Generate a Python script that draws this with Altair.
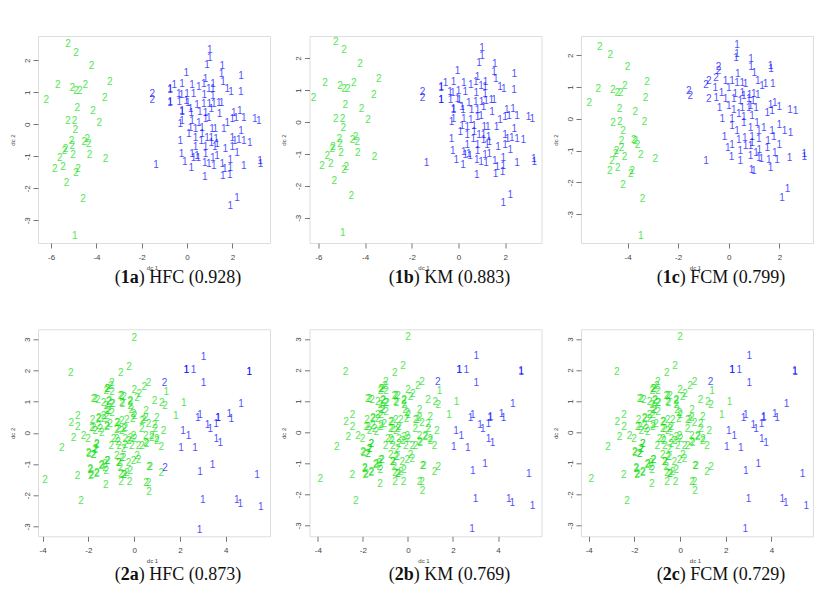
import altair as alt
import pandas as pd

# ---------------- Data set 1 : panels (1a) and (1b) ----------------
d1_green = [(-5.26, 2.5), (-4.9, 2.24), (-4.22, 1.82), (-3.41, 1.33), (-5.71, 1.22), (-5.07, 1.13),
            (-4.9, 1.04), (-4.74, 1.04), (-4.49, 1.23), (-6.21, 0.76), (-3.63, 0.83), (-4.85, 0.52),
            (-4.15, 0.42), (-5.25, 0.1), (-4.97, 0.1), (-3.87, 0.05), (-4.93, -0.18), (-5.1, -0.52),
            (-4.41, -0.47), (-4.54, -0.55), (-4.34, -0.62), (-5.07, -0.68), (-5.37, -0.78), (-5.41, -0.85),
            (-5.62, -1.06), (-5.03, -0.97), (-4.31, -0.96), (-3.6, -1.09), (-5.84, -1.39), (-5.47, -1.32),
            (-4.81, -1.41), (-4.9, -1.51), (-5.32, -1.84), (-4.59, -2.32)]
d1_blue = [(1.0, 2.31), (1.0, 2.06), (0.88, 1.85), (1.55, 1.82), (-0.04, 1.61), (0.81, 1.41), (1.52, 1.56),
           (1.59, 1.33), (2.38, 1.51), (2.37, 1.01), (-0.75, 1.07), (-0.56, 1.22), (-0.22, 1.25), (0.22, 1.22),
           (0.52, 1.17), (0.74, 1.25), (0.96, 1.11), (1.13, 1.09), (1.15, 1.25), (1.77, 1.09), (1.94, 1.02),
           (-0.37, 0.94), (-0.25, 0.91), (0.0, 0.96), (0.29, 0.94), (0.76, 0.91), (1.13, 0.88), (-0.75, 0.68),
           (-0.34, 0.7), (-0.04, 0.73), (0.03, 0.68), (0.44, 0.59), (0.74, 0.63), (0.98, 0.63), (1.18, 0.64),
           (1.4, 0.68), (1.52, 0.68), (0.15, 0.47), (-0.22, 0.38), (0.19, 0.36), (0.56, 0.38), (0.81, 0.36),
           (1.07, 0.47), (1.43, 0.31), (2.06, 0.36), (2.33, 0.42), (2.5, 0.19), (2.99, 0.16), (3.16, 0.1),
           (-0.22, 0.1), (0.22, 0.1), (0.52, 0.05), (0.81, 0.16), (0.96, 0.19), (1.1, -0.16), (1.25, -0.16),
           (1.62, -0.16), (1.77, 0.05), (1.99, 0.16), (2.16, 0.19), (-0.3, 0.0), (0.15, -0.13), (0.37, -0.16),
           (0.66, -0.13), (0.07, -0.31), (0.37, -0.42), (0.66, -0.31), (0.88, -0.42), (1.07, -0.42),
           (1.28, -0.47), (1.99, -0.42), (2.38, -0.21), (-0.3, -0.52), (0.63, -0.52), (1.07, -0.57),
           (1.32, -0.63), (2.1, -0.52), (2.28, -0.5), (2.5, -0.52), (2.77, -0.57), (0.37, -0.71), (0.81, -0.71),
           (1.22, -0.71), (1.69, -0.78), (1.99, -0.71), (2.21, -0.89), (-0.25, -0.92), (0.22, -0.94),
           (0.44, -0.99), (0.81, -0.92), (1.13, -1.04), (1.32, -0.99), (0.29, -1.04), (0.49, -1.06),
           (-0.1, -1.18), (0.78, -1.2), (0.96, -1.25), (1.18, -1.3), (1.55, -1.23), (1.91, -1.13),
           (1.66, -1.41), (1.91, -1.38), (2.5, -1.3), (3.24, -1.25), (3.22, -1.15), (0.19, -1.36),
           (0.78, -1.65), (1.58, -1.62), (1.88, -1.58), (2.21, -2.29), (1.91, -2.55), (-1.37, -1.28),
           (-0.74, 1.09), (-0.74, 0.7), (-0.22, 0.42)]
# unusual points: (x, y, true label, cluster)
d1_odd = [(-4.96, -3.49, "1", "2"), (-1.54, 0.94, "2", "1"), (-1.54, 0.76, "2", "1")]

# ---------------- Data set 1 : panel (1c) ----------------
d1c_green = [(-5.1, 2.26), (-4.68, 2.01), (-4.0, 1.63), (-3.23, 1.17), (-5.16, 0.95), (-4.58, 0.9),
             (-4.41, 0.82), (-4.28, 0.82), (-4.11, 1.03), (-5.51, 0.5), (-3.29, 0.66), (-4.32, 0.32),
             (-3.69, 0.22), (-4.57, -0.13), (-4.31, -0.11), (-3.33, -0.11), (-4.18, -0.37), (-4.24, -0.7),
             (-3.75, -0.68), (-3.69, -0.7), (-3.61, -0.81), (-4.24, -0.91), (-4.44, -1.02), (-4.48, -1.1),
             (-4.61, -1.34), (-4.12, -1.2), (-3.48, -1.15), (-2.9, -1.26), (-4.7, -1.65), (-4.39, -1.55),
             (-3.82, -1.63), (-3.87, -1.73), (-4.18, -2.07), (-3.41, -2.52)]
d1c_blue = [(0.33, 2.34), (0.33, 2.05), (0.29, 1.92), (0.88, 1.87), (0.88, 1.63), (1.65, 1.66), (1.67, 1.56),
            (0.36, 1.4), (1.01, 1.45), (-0.13, 1.19), (0.13, 1.19), (0.33, 1.14), (0.53, 1.14), (0.66, 1.11),
            (1.15, 1.19), (1.32, 1.03), (1.45, 1.1), (1.74, 1.1), (-0.53, 0.96), (-0.29, 0.82), (0.0, 0.96),
            (0.26, 0.77), (0.53, 0.82), (0.82, 0.75), (0.99, 0.77), (1.15, 0.75), (-0.49, 0.66), (-0.13, 0.63),
            (0.2, 0.61), (0.46, 0.56), (0.79, 0.61), (-0.36, 0.35), (0.0, 0.4), (0.2, 0.29), (0.53, 0.35),
            (0.86, 0.4), (1.08, 0.33), (1.65, 0.43), (1.82, 0.5), (2.0, 0.37), (2.42, 0.29), (2.64, 0.26),
            (-0.26, -0.02), (0.13, 0.01), (0.4, 0.14), (0.59, 0.05), (0.92, 0.08), (1.52, 0.19), (1.71, 0.24),
            (0.13, -0.23), (0.33, -0.39), (0.59, -0.13), (0.86, -0.28), (1.12, -0.13), (1.38, -0.28),
            (1.71, -0.39), (2.0, -0.18), (2.2, -0.39), (2.44, -0.44), (-0.17, -0.58), (0.4, -0.65),
            (0.63, -0.6), (0.92, -0.58), (1.19, -0.62), (1.55, -0.7), (1.78, -0.58), (2.0, -0.81),
            (-0.04, -0.91), (0.13, -0.81), (0.46, -1.0), (0.86, -0.86), (1.21, -0.97), (1.52, -0.91),
            (1.82, -1.07), (0.11, -1.21), (0.46, -1.34), (0.86, -1.18), (1.19, -1.23), (1.58, -1.28),
            (1.91, -1.28), (2.4, -1.23), (2.99, -1.1), (2.99, -1.21), (-0.9, -1.34), (0.99, -1.65),
            (1.65, -1.55), (2.32, -2.2), (2.11, -2.49), (0.59, 0.72), (0.79, 0.35), (0.96, 0.56),
            (1.19, -0.39), (0.92, -0.76), (0.66, -0.86), (1.08, -1.07), (1.29, -1.25), (0.9, -1.6)]
d1c_odd = [(-3.48, -3.7, "1", "2"), (-1.58, 0.87, "2", "1"), (-1.52, 0.72, "2", "1"), (-0.9, 1.08, "2", "1"),
           (-0.79, 1.19, "2", "1"), (-0.5, 1.29, "2", "1"), (-0.4, 1.63, "2", "1"), (-0.4, 1.5, "2", "1"),
           (-0.79, 0.63, "2", "1")]

# ---------------- Data set 2 : panels (2a), (2b), (2c) ----------------
d2_green = [(0.0, 3.05), (-2.77, 1.93), (-0.22, 2.12), (-0.58, 1.91), (0.63, 1.61), (0.44, 1.48), (0.0, 1.37),
            (0.12, 1.13), (0.22, 1.23), (0.89, 1.02), (1.21, 0.96), (1.35, 0.86), (-0.98, 1.61), (-1.02, 1.5),
            (-1.15, 1.39), (-1.22, 1.34), (-1.78, 1.07), (-1.59, 1.05), (-1.09, 1.02), (-0.98, 0.93),
            (-1.22, 0.86), (-0.61, 1.18), (-0.44, 1.15), (-0.54, 0.96), (-0.17, 1.02), (-0.17, 0.86),
            (0.01, 0.54), (-0.06, 0.43), (0.52, 0.7), (0.41, 0.4), (0.99, 0.48), (1.28, 0.05), (0.33, 0.11),
            (0.63, 0.29), (0.92, 0.11), (-1.15, 0.7), (-1.34, 0.54), (-1.56, 0.43), (-1.82, 0.4), (-1.85, 0.16),
            (-2.46, 0.54), (-2.75, 0.32), (-2.46, 0.18), (-1.56, 0.21), (-1.41, 0.0), (-1.7, 0.05),
            (-1.19, 0.18), (-0.76, 0.32), (-0.54, 0.38), (-0.32, 0.4), (-0.68, 0.11), (-0.44, 0.11),
            (-2.65, -0.16), (-2.21, -0.11), (-2.02, -0.21), (-3.16, -0.48), (-1.63, -0.38), (-1.7, -0.54),
            (-1.97, -0.68), (-1.78, -0.7), (-1.0, -0.43), (-0.76, -0.21), (-0.66, -0.43), (-0.39, -0.38),
            (-0.17, -0.16), (-0.03, -0.11), (0.19, -0.43), (0.51, -0.11), (0.77, -0.11), (0.99, -0.21),
            (0.55, -0.35), (-0.68, -0.96), (-0.47, -0.8), (-0.25, -0.96), (-0.76, -0.75), (0.12, -0.75),
            (-0.03, -0.89), (-1.15, -0.89), (-1.27, -1.0), (-1.44, -1.07), (-1.22, -1.21), (-1.92, -1.15),
            (-1.89, -1.39), (-1.63, -1.32), (-2.47, -1.39), (-0.57, -1.32), (-0.42, -1.34), (-0.17, -1.23),
            (-0.57, -1.59), (-0.2, -1.59), (-1.24, -1.68), (0.52, -1.61), (0.65, -1.1), (0.65, -1.9),
            (1.18, -1.29), (-3.89, -1.5), (-2.32, -2.2),
            (-1.19, 1.4), (-0.97, 1.32), (-1.7, 1.07), (-1.34, 0.96), (-1.12, 0.99), (-0.94, 0.93),
            (-0.54, 1.18), (-0.51, 0.93), (-0.17, 1.0), (-0.13, 0.72), (-0.03, 0.61), (-1.12, 0.7),
            (-0.97, 0.64), (-1.19, 0.54), (-1.55, 0.46), (-1.34, 0.43), (-1.77, 0.16), (-1.48, 0.11),
            (-1.19, 0.22), (-1.05, 0.27), (-0.71, 0.32), (-0.39, 0.16), (-0.76, 0.09), (-0.54, 0.05),
            (0.34, 0.38), (0.51, 0.46), (0.89, 0.25), (-0.9, -0.21), (-0.71, -0.29), (-0.39, -0.21),
            (-0.22, -0.27), (0.02, -0.21), (-0.1, -0.43), (-0.46, -0.53), (-0.54, -0.8), (-0.66, -0.96),
            (-0.61, -1.13), (-0.46, -1.34), (-0.32, -1.29), (-1.41, -1.02), (-1.27, -1.13), (-1.19, -0.91),
            (-1.7, -0.53), (-1.77, -0.7), (-1.99, -0.64), (-1.63, -0.37), (0.19, -0.86), (0.34, -0.43),
            (0.51, -0.32), (0.77, -0.16), (0.99, -0.27), (0.7, -1.1), (0.63, -1.61), (-1.85, -1.34),
            (-1.92, -1.18), (-1.63, -1.29)]
d2_blue = [(3.03, 2.44), (2.27, 2.0), (2.29, 2.0), (2.59, 2.0), (5.02, 1.96), (5.03, 1.95), (3.03, 1.59),
           (4.66, 0.91), (2.88, 0.56), (2.78, 0.46), (3.65, 0.46), (3.67, 0.48), (4.15, 0.59), (4.24, 0.45),
           (3.2, 0.24), (3.32, 0.11), (3.57, 0.27), (2.13, 0.05), (2.37, -0.11), (2.04, -0.48), (2.66, -0.5),
           (3.58, -0.21), (3.76, -0.34), (3.42, -1.02), (2.88, -1.25), (5.36, -1.36), (3.0, -2.14),
           (4.48, -2.16), (4.63, -2.28), (5.53, -2.38), (2.85, -3.13)]
# border points: (x, y, true label) and their cluster in each panel
d2_edge = [(1.33, 1.61, "2"), (1.4, 1.32, "1"), (2.16, 0.96, "1"), (1.82, 0.54, "1"),
           (1.35, -1.13, "2"), (1.18, -0.46, "2")]
d2_edge_cluster_a = ["1", "2", "2", "2", "1", "2"]
d2_edge_cluster_b = ["1", "2", "2", "2", "2", "2"]
d2_edge_cluster_c = ["1", "2", "2", "2", "2", "2"]

# ---------------- Panel settings ----------------
tags = ["1a", "1b", "1c", "2a", "2b", "2c"]
methods = ["HFC", "KM", "FCM", "HFC", "KM", "FCM"]
scores = ["0.928", "0.883", "0.799", "0.873", "0.769", "0.729"]
x_domains = [[-6.58, 3.66], [-6.38, 3.55], [-5.84, 3.33], [-4.2, 5.93], [-4.37, 5.93], [-4.34, 5.82]]
y_domains = [[-3.71, 2.76], [-3.79, 2.69], [-3.91, 2.61], [-3.32, 3.32], [-3.35, 3.31], [-3.35, 3.31]]
x_ticks = [[-6, -4, -2, 0, 2], [-6, -4, -2, 0, 2], [-4, -2, 0, 2],
           [-4, -2, 0, 2, 4], [-4, -2, 0, 2, 4], [-4, -2, 0, 2, 4]]
y_ticks = [[-3, -2, -1, 0, 1, 2]] * 3 + [[-3, -2, -1, 0, 1, 2, 3]] * 3

W, H = 232, 207
BLUE, GREEN = "#0000ff", "#00dd00"


def frame(groups):
    rows = []
    for pts, lab, cl in groups:
        for p in pts:
            rows.append({"x": p[0], "y": p[1], "label": lab, "cluster": cl})
    return pd.DataFrame(rows)


def odd_frame(odd):
    return pd.DataFrame([{"x": a, "y": b, "label": c, "cluster": d} for a, b, c, d in odd])


df1 = pd.concat([frame([(d1_green, "2", "2"), (d1_blue, "1", "1")]), odd_frame(d1_odd)])
df1c = pd.concat([frame([(d1c_green, "2", "2"), (d1c_blue, "1", "1")]), odd_frame(d1c_odd)])


def d2_frame(clusters):
    base = frame([(d2_green, "2", "2"), (d2_blue, "1", "1")])
    edge = pd.DataFrame([{"x": e[0], "y": e[1], "label": e[2], "cluster": c}
                         for e, c in zip(d2_edge, clusters)])
    return pd.concat([base, edge])


datasets = [df1, df1, df1c, d2_frame(d2_edge_cluster_a), d2_frame(d2_edge_cluster_b),
            d2_frame(d2_edge_cluster_c)]

# caption metrics (Times-like serif, em units)
NORMAL_W = {"(": 0.333, ")": 0.333, " ": 0.25, "H": 0.722, "F": 0.556, "C": 0.667, "K": 0.722,
            "M": 0.889, ".": 0.25}
BOLD_W = {"1": 0.5, "2": 0.5, "a": 0.5, "b": 0.556, "c": 0.444}
CAP_FS = 18
CAP_FONT = "Liberation Serif"


def text_width(s, table):
    return sum(table.get(ch, 0.5) for ch in s) * CAP_FS


def panel(i):
    row = i // 3
    df = datasets[i]
    pts = alt.Chart(df).mark_text(font="Liberation Sans", fontSize=10, opacity=0.7,
                                  align="center", baseline="middle").encode(
        x=alt.X("x:Q", scale=alt.Scale(domain=x_domains[i], nice=False, zero=False),
                axis=alt.Axis(values=x_ticks[i], title="dc 1", grid=False, domain=False,
                              tickSize=5, tickColor="#777", labelFont="Liberation Sans",
                              labelFontSize=8, labelColor="#444", labelPadding=5,
                              labelFlush=False, labelExpr="toString(datum.value)",
                              titleFont="Liberation Sans", titleFontSize=6, titleFontWeight="normal",
                              titleColor="#444", titleX=W / 2 - 2, titleY=24,
                              titleAlign="center", titleBaseline="middle")),
        y=alt.Y("y:Q", scale=alt.Scale(domain=y_domains[i], nice=False, zero=False),
                axis=alt.Axis(values=y_ticks[i], title="dc 2", grid=False, domain=False,
                              tickSize=5, tickColor="#777", labelFont="Liberation Sans",
                              labelFontSize=8, labelColor="#444", labelPadding=4,
                              labelAngle=270, labelAlign="center", labelBaseline="alphabetic",
                              labelFlush=False, labelExpr="toString(datum.value)",
                              titleFont="Liberation Sans", titleFontSize=6, titleFontWeight="normal",
                              titleColor="#444", titleX=-26, titleY=H / 2, titleAngle=270,
                              titleAlign="center", titleBaseline="middle")),
        text="label:N",
        color=alt.Color("cluster:N", scale=alt.Scale(domain=["1", "2"], range=[BLUE, GREEN]),
                        legend=None),
    )

    # caption  "(<b>1a</b>) HFC (0.928)"
    part_a = "("
    part_b = tags[i]
    part_c = ") " + methods[i] + " (" + scores[i] + ")"
    wa = text_width(part_a, NORMAL_W)
    wb = text_width(part_b, BOLD_W)
    wc = text_width(part_c, NORMAL_W)
    cx = 140
    cy = H + (35 if row == 0 else 39)
    left = cx - (wa + wb + wc) / 2

    def cap(txt, xpos, align, weight):
        return alt.Chart(pd.DataFrame({"t": [txt]})).mark_text(
            font=CAP_FONT, fontSize=CAP_FS, fontWeight=weight, color="#111",
            align=align, baseline="middle").encode(
            x=alt.value(xpos), y=alt.value(cy), text="t:N")

    layers = [pts,
              cap(part_a, left + wa, "right", "normal"),
              cap(part_b, left + wa, "left", "bold"),
              cap(part_c, left + wa + wb, "left", "normal")]
    return alt.layer(*layers).properties(width=W, height=H)


chart = alt.concat(*[panel(i) for i in range(6)], columns=3,
                   spacing={"row": 86.3, "column": 39.5}, bounds="flush").properties(
    padding={"left": 0, "top": 27, "right": 0, "bottom": 0}
).configure_view(stroke="#777", strokeWidth=1).configure(background="white")

chart.save("out.html", embed_options={"renderer": "svg", "actions": False})
